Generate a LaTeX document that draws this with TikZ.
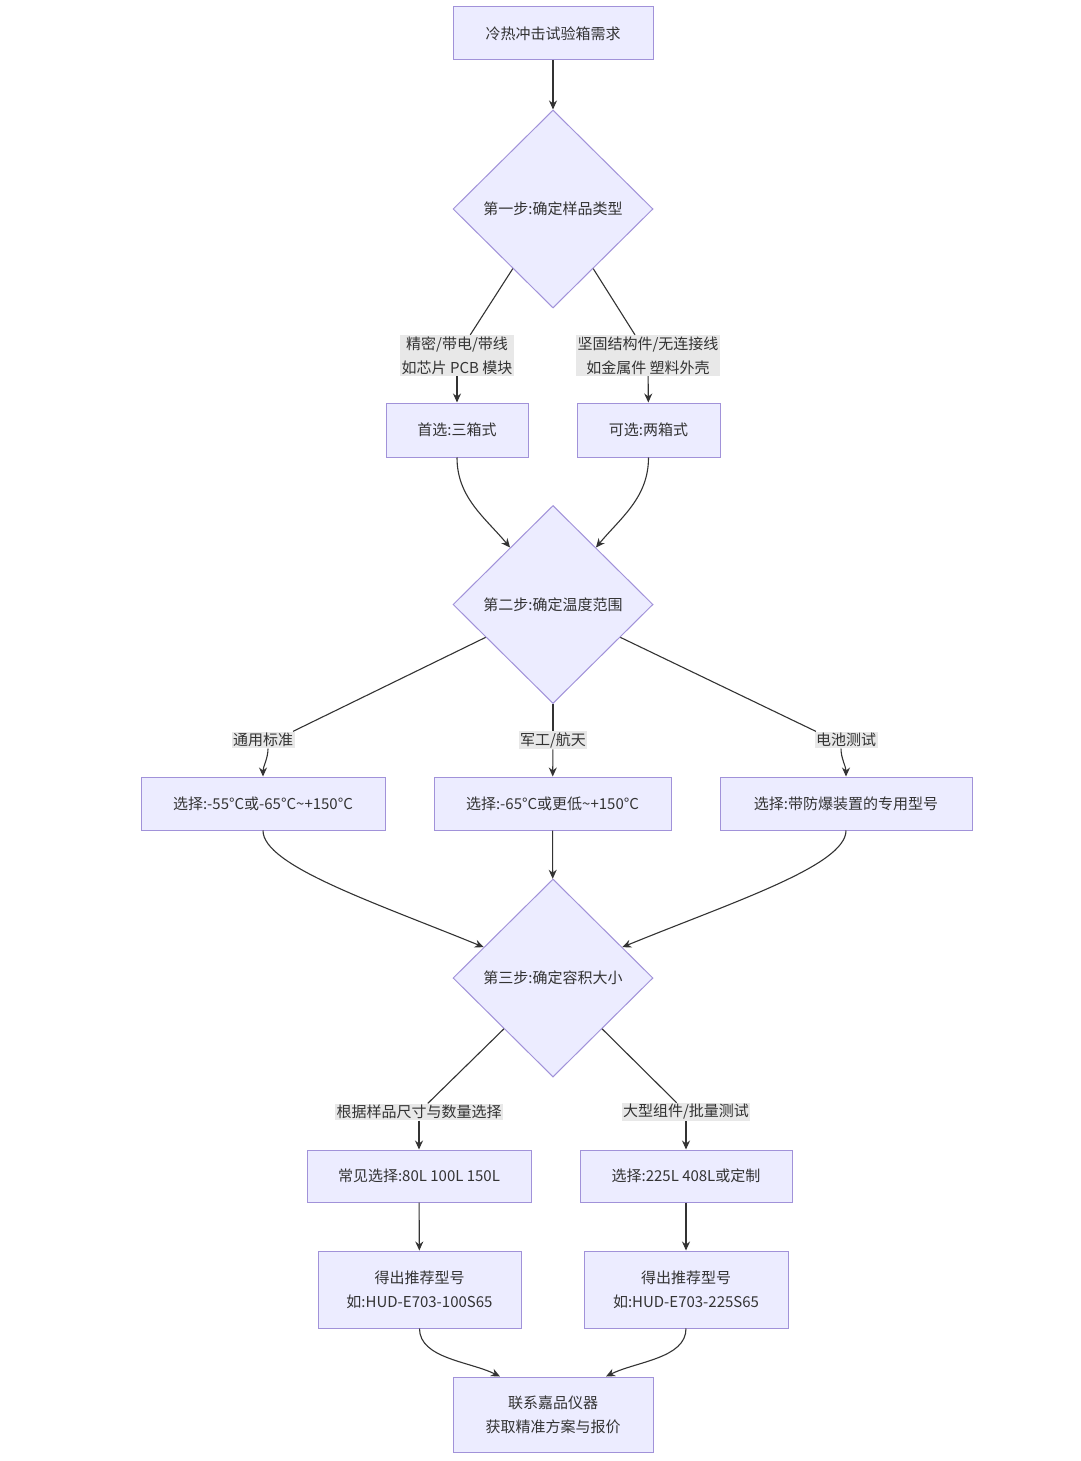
\documentclass[tikz,border=0pt]{standalone}
\usepackage{fontspec}
\setmainfont{Noto Sans CJK SC}
\usetikzlibrary{shapes.geometric,arrows.meta}
\definecolor{boxfill}{HTML}{ECECFF}
\definecolor{boxline}{HTML}{A192D9}
\definecolor{ink}{HTML}{333333}
\definecolor{labfill}{HTML}{E8E8E8}
\tikzset{
  box/.style={draw=boxline,fill=boxfill,line width=1pt,text=ink,align=center,inner sep=0pt,font=\fontsize{15}{24}\selectfont},
  decision/.style={box,diamond,minimum width=200pt,minimum height=198pt},
  elabel/.style={fill=labfill,text=ink,align=center,inner sep=1.5pt,font=\fontsize{15}{24}\selectfont},
  link/.style={draw=ink,line width=1.1pt,-{Stealth[length=9pt,width=8pt]}},
  plain/.style={draw=ink,line width=1.1pt},
}
\begin{document}
\begin{tikzpicture}[x=1pt,y=1pt]
\fill[white] (0,0) rectangle (1080,-1461);
\useasboundingbox (0,0) rectangle (1080,-1461);

\node[box,minimum width=200pt,minimum height=53pt] (start) at (553,-33.5) {冷热冲击试验箱需求};
\node[decision] (step1) at (553,-209) {第一步:确定样品类型};
\node[elabel] (l1a) at (457,-355.5) {精密/带电/带线\\如芯片 PCB 模块};
\node[elabel] (l1b) at (648,-355.5) {坚固结构件/无连接线\\如金属件 塑料外壳};
\node[box,minimum width=142pt,minimum height=54pt] (three) at (457,-430) {首选:三箱式};
\node[box,minimum width=143pt,minimum height=54pt] (two) at (648.5,-430) {可选:两箱式};

\node[decision] (step2) at (553,-604.5) {第二步:确定温度范围};
\node[elabel] (l2a) at (263,-740) {通用标准};
\node[elabel] (l2b) at (553,-740) {军工/航天};
\node[elabel] (l2c) at (846,-740) {电池测试};
\node[box,minimum width=244pt,minimum height=53pt] (tgen) at (263,-803.5) {选择:-55°C或-65°C\textasciitilde+150°C};
\node[box,minimum width=237pt,minimum height=53pt] (tmil) at (552.5,-803.5) {选择:-65°C或更低\textasciitilde+150°C};
\node[box,minimum width=252pt,minimum height=53pt] (tbat) at (846,-803.5) {选择:带防爆装置的专用型号};

\node[decision] (step3) at (553,-978) {第三步:确定容积大小};
\node[elabel] (l3a) at (419,-1112) {根据样品尺寸与数量选择};
\node[elabel] (l3b) at (686,-1112) {大型组件/批量测试};
\node[box,minimum width=224pt,minimum height=52pt] (vstd) at (419,-1176) {常见选择:80L 100L 150L};
\node[box,minimum width=212pt,minimum height=52pt] (vbig) at (686,-1176) {选择:225L 408L或定制};
\node[box,minimum width=203pt,minimum height=77pt] (mstd) at (419.5,-1289.5) {得出推荐型号\\如:HUD-E703-100S65};
\node[box,minimum width=204pt,minimum height=77pt] (mbig) at (686,-1289.5) {得出推荐型号\\如:HUD-E703-225S65};
\node[box,minimum width=200pt,minimum height=75pt] (contact) at (553,-1414.5) {联系嘉品仪器\\获取精准方案与报价};

\draw[link] (start) -- (step1);
\draw[plain] (step1.236) -- (l1a);
\draw[plain] (step1.304) -- (l1b);
\draw[link] (l1a) -- (three);
\draw[link] (l1b) -- (two);
\draw[link] (three.south) .. controls +(0,-40) and +(-25,30) .. (step2.127);
\draw[link] (two.south) .. controls +(0,-40) and +(25,30) .. (step2.53);

\draw[plain] (step2.206) -- ([xshift=30pt]l2a.north);
\draw[plain] (step2) -- (l2b);
\draw[plain] (step2.334) -- ([xshift=-30pt]l2c.north);
\draw[link] ([xshift=5pt]l2a.south) .. controls +(0,-10) and +(0,10) .. (tgen.north);
\draw[link] (l2b) -- (tmil);
\draw[link] ([xshift=-5pt]l2c.south) .. controls +(0,-10) and +(0,10) .. (tbat.north);
\draw[link] (tgen.south) .. controls +(0,-35) and +(-110,45) .. (step3.156);
\draw[link] (tmil) -- (step3);
\draw[link] (tbat.south) .. controls +(0,-35) and +(110,45) .. (step3.24);

\draw[plain] (step3.226) -- (l3a);
\draw[plain] (step3.314) -- (l3b);
\draw[link] (l3a) -- (vstd);
\draw[link] (l3b) -- (vbig);
\draw[link] (vstd) -- (mstd);
\draw[link] (vbig) -- (mbig);
\draw[link] (mstd.south) .. controls +(0,-30) and +(-30,15) .. ([xshift=-53pt]contact.north);
\draw[link] (mbig.south) .. controls +(0,-30) and +(30,15) .. ([xshift=53pt]contact.north);
\end{tikzpicture}
\end{document}
